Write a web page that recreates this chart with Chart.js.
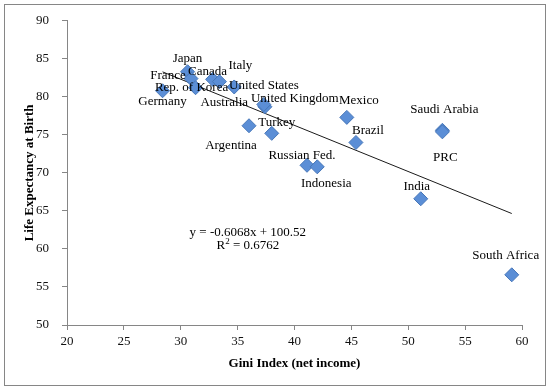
<!DOCTYPE html>
<html>
<head>
<meta charset="utf-8">
<script src="https://cdn.jsdelivr.net/npm/chart.js@4/dist/chart.umd.min.js"></script>
<style>
  html, body { margin: 0; padding: 0; background: #fff; }
</style>
</head>
<body>
<canvas id="graf" width="550" height="390"></canvas>
<script>
const paises = ['Japan', 'France', 'Rep. of Korea', 'Germany', 'Canada', 'Italy', 'Australia',
  'United States', 'United Kingdom', 'Mexico', 'Turkey', 'Argentina', 'Brazil',
  'Saudi Arabia', 'PRC', 'Russian Fed.', 'Indonesia', 'India', 'South Africa']
const gini = [30.6, 30.9, 31.3, 28.4, 32.8, 33.4, 34.7, 37.4, 37.3, 44.6, 38.0, 36.0, 45.4,
  53.0, 53.0, 41.1, 42.0, 51.1, 59.1]
const vida = [83.3, 82.4, 81.2, 80.8, 82.3, 82.0, 81.3, 78.7, 79.0, 77.3, 75.2, 76.2, 74.0,
  75.6, 75.4, 71.0, 70.8, 66.6, 56.6]
const ticksX = [20, 25, 30, 35, 40, 45, 50, 55, 60]
const ticksY = [50, 55, 60, 65, 70, 75, 80, 85, 90]
const inclinacao = -0.6068
const intercepto = 100.52
const r2 = 0.6762

// deslocamento dos rotulos (px) em relacao ao ponto
const desloc = [[0, -13], [-23, -3], [-4, 0], [0, 11], [-5, -8], [21, -16], [-10, 16],
  [-1, -21], [31, -6], [12, -17], [5, -11], [-18, 20], [12, -12],
  [2, -21], [3, 26], [-5, -10], [9, 17], [-4, -12], [-6, -19]]

const fonte = '"Liberation Serif", "Times New Roman", serif'
const cinza = '#868686'

const pontos = gini.map((g, i) => ({ x: g, y: vida[i] }))
const xMin = Math.min(...gini)
const xMax = Math.max(...gini)
const tendencia = [
  { x: xMin, y: intercepto + inclinacao * xMin },
  { x: xMax, y: intercepto + inclinacao * xMax }
]

const rotulos = {
  id: 'rotulos',
  afterDatasetsDraw(chart) {
    const ctx = chart.ctx
    const meta = chart.getDatasetMeta(0)
    ctx.save()
    ctx.font = '13px ' + fonte
    ctx.fillStyle = '#000'
    ctx.textAlign = 'center'
    ctx.textBaseline = 'middle'
    meta.data.forEach((p, i) => {
      ctx.fillText(paises[i], p.x + desloc[i][0], p.y + desloc[i][1])
    })

    // equacao da tendencia
    const ex = chart.scales.x.getPixelForValue(35.9)
    const ey = chart.scales.y.getPixelForValue(62.1)
    ctx.fillText('y = ' + inclinacao + 'x + ' + intercepto, ex, ey)
    const t1 = 'R', t2 = '2', t3 = ' = ' + r2
    const w1 = ctx.measureText(t1).width
    const w3 = ctx.measureText(t3).width
    ctx.font = '9px ' + fonte
    const w2 = ctx.measureText(t2).width
    let x0 = ex - (w1 + w2 + w3) / 2
    const y2 = ey + 13
    ctx.textAlign = 'left'
    ctx.font = '13px ' + fonte
    ctx.fillText(t1, x0, y2)
    ctx.font = '9px ' + fonte
    ctx.fillText(t2, x0 + w1, y2 - 4)
    ctx.font = '13px ' + fonte
    ctx.fillText(t3, x0 + w1 + w2, y2)

    // moldura
    ctx.strokeStyle = cinza
    ctx.lineWidth = 1
    ctx.strokeRect(4.5, 4.5, 541, 381)
    ctx.restore()
  }
}

new Chart(document.getElementById('graf').getContext('2d'), {
  type: 'scatter',
  data: {
    datasets: [{
      data: pontos,
      pointStyle: 'rectRot',
      pointRadius: 7,
      backgroundColor: '#5B8ED6',
      borderColor: '#4676B8',
      borderWidth: 1
    }, {
      data: tendencia,
      showLine: true,
      pointRadius: 0,
      borderColor: '#1a1a1a',
      borderWidth: 1
    }]
  },
  options: {
    responsive: false,
    animation: false,
    layout: { padding: { left: 0, top: 20, right: 28, bottom: 0 } },
    plugins: { legend: { display: false }, tooltip: { enabled: false } },
    scales: {
      x: {
        min: 20, max: 60,
        afterBuildTicks: s => { s.ticks = ticksX.map(v => ({ value: v })) },
        afterFit: s => { s.height = 65 },
        grid: { drawOnChartArea: false, tickLength: 5, color: cinza },
        border: { color: cinza },
        ticks: { padding: 4, color: '#111', font: { family: fonte, size: 13 } },
        title: {
          display: true, text: 'Gini Index (net income)', color: '#000',
          font: { family: fonte, size: 13, weight: 'bold' },
          padding: { top: 0, bottom: 19 }
        }
      },
      y: {
        min: 50, max: 90,
        afterBuildTicks: s => { s.ticks = ticksY.map(v => ({ value: v })) },
        afterFit: s => { s.width = 67 },
        grid: { drawOnChartArea: false, tickLength: 5, color: cinza },
        border: { color: cinza },
        ticks: { padding: 13, color: '#111', font: { family: fonte, size: 13 } },
        title: {
          display: true, text: 'Life Expectancy at Birth', color: '#000',
          font: { family: fonte, size: 13, weight: 'bold' },
          padding: { top: 22, bottom: 0 }
        }
      }
    }
  },
  plugins: [rotulos]
})
</script>
</body>
</html>
